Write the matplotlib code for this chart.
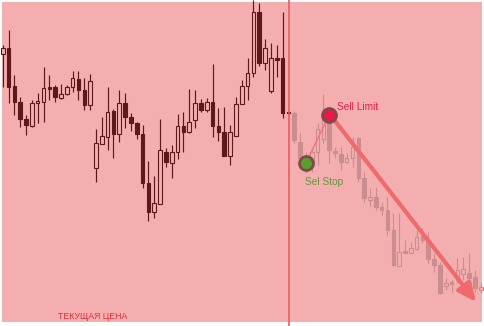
import matplotlib
matplotlib.use("Agg")
import matplotlib.pyplot as plt
import numpy as np

# Candle OHLC values (price units), index 0..82
opens = [271.7, 278.3, 240, 224.3, 206.7, 200.3, 222.7, 224.3, 238.7, 238.7,
         228.3, 231.7, 239.3, 247, 236, 221, 158.3, 181.7, 189.3, 215,
         191.7, 223.3, 208.7, 202.7, 192, 142.7, 114.3, 122, 173.7, 163.3,
         174.3, 200, 194.3, 206, 223.3, 216, 224.3, 200.3, 194.3, 170,
         190, 222, 240, 252.7, 314.3, 263.3, 235.3, 267.7, 267.7, 213.7,
         213, 184.3, 168, 161, 174, 187, 207, 175.3, 172, 164.3,
         168, 187.7, 147.7, 126, 128.7, 119.3, 116, 96, 60.5, 75,
         73.3, 77, 90.5, 86, 66.7, 61, 40, 44, 46, 52.5,
         53.3, 49.5, 36]
highs = [281, 296, 251, 229, 211, 226, 233.3, 259.3, 251, 241,
         241.7, 241, 255, 255.3, 248.3, 252, 197, 209.3, 238.7, 217,
         236, 232.7, 212.7, 204.3, 201, 165, 150, 207, 177.7, 181,
         211.7, 213.7, 236.7, 236, 226.7, 227.7, 261.7, 217.7, 219.3, 201,
         229.3, 246, 267.7, 326, 322.7, 286.7, 282.7, 281, 314.3, 214,
         215, 193, 174.3, 178, 203, 232, 216, 179.3, 179, 172.7,
         189.3, 189.3, 154.3, 137.7, 139.3, 124.3, 129.3, 113, 112.7, 86,
         84.3, 96, 98, 94.3, 72.7, 64.3, 48, 46, 68, 69.3,
         73, 56, 43.3]
lows = [239, 223, 211, 199, 191, 199, 203.3, 204.3, 226, 224.3,
        226.7, 231, 234.3, 226, 216, 216, 144.3, 181.7, 176, 168.3,
        184.3, 197.7, 195, 187, 138.3, 105.3, 108.3, 122, 158.7, 148.3,
        167, 173.7, 193.3, 197.7, 214.3, 214.3, 188.7, 185.3, 170, 161,
        190, 222, 226, 248.7, 260, 256, 233.3, 249.3, 207.7, 212.5,
        183, 164.3, 153, 154, 161, 182.7, 162.7, 167.7, 156, 163.3,
        159.3, 144.3, 124.3, 120, 116, 111, 91, 60, 60, 72.7,
        72, 76, 83, 62.7, 54.3, 32, 36, 34.3, 43, 46,
        36, 34, 32.7]
closes = [278.3, 239, 224, 206.7, 201, 223.3, 225, 237.7, 237.3, 229.3,
          232, 239.3, 248.3, 236, 221, 245, 182.7, 190, 213.7, 191.7,
          223.3, 208.7, 202.7, 192, 142.7, 114.3, 122.7, 176, 163.7, 174.3,
          200.3, 194.3, 204.3, 223.3, 216, 224.3, 200.3, 194.3, 170, 194.3,
          222, 240, 252.7, 314.3, 263.3, 277.7, 267.7, 266, 213.3, 213,
          186, 167.7, 158, 174, 196.7, 212.7, 176, 173.3, 164, 168,
          179.3, 147.7, 127.7, 129.3, 119.3, 116, 96, 61, 74.3, 73.5,
          77.7, 89.3, 86, 66.7, 61, 33, 43.3, 42.5, 56, 56.7,
          48, 38.5, 39.3]
current_index = 49  # last real candle ("текущая цена")

sell_limit = (56, 211)
sell_stop = (52, 163)
target = (81.2, 24)
arrow_start = (56.6, 208)

BG = "#f4aeb0"
DARK = "#5e181c"
FADED = "#cc8d90"

fig = plt.figure(figsize=(4.85, 3.26), dpi=100)
fig.patch.set_facecolor("white")
ax = fig.add_axes([2 / 485, 4 / 326, 480 / 485, 320 / 326])
ax.set_facecolor(BG)
for s in ax.spines.values():
    s.set_visible(False)
ax.set_xticks([])
ax.set_yticks([])
ax.set_xlim(-0.12, 82.21)
ax.set_ylim(4, 324)

x = np.arange(len(opens))
o = np.array(opens); h = np.array(highs); l = np.array(lows); c = np.array(closes)
col = [DARK if i <= current_index else FADED for i in x]
bull = c > o
face = [BG if bull[i] else col[i] for i in x]

ax.vlines(x, l, h, colors=col, lw=0.85, zorder=2, clip_on=False)
bottom = np.minimum(o, c)
height = np.maximum(np.abs(c - o), 0.9)
ax.bar(x, height, bottom=bottom, width=0.62, color=face, edgecolor=col,
       linewidth=0.8, zorder=3, clip_on=False)

# current price vertical line
ax.axvline(current_index + 0.1, ymin=-0.02, ymax=1.02, color="#ec5a5c",
           lw=1.2, zorder=4, clip_on=False)

# thin link between markers
ax.plot([sell_stop[0], sell_limit[0]], [sell_stop[1], sell_limit[1]],
        color="#e9777b", lw=1.0, zorder=5)

# big arrow
ax.annotate("", xy=target, xytext=arrow_start,
            arrowprops=dict(arrowstyle="-|>,head_length=1.1,head_width=0.5",
                            color="#ef6a6c", lw=3.0, shrinkA=0, shrinkB=0,
                            mutation_scale=10),
            zorder=5)

ax.plot(*sell_limit, "o", ms=10, mfc="#e8194a", mec="#7e4a4c", mew=2, zorder=6)
ax.plot(*sell_stop, "o", ms=10, mfc="#58a02a", mec="#7e4a4c", mew=2, zorder=6)

ax.annotate("Sell Limit", xy=sell_limit, xytext=(5.5, 5.6),
            textcoords="offset points", ha="left", va="center",
            color="#e1204c", fontsize=7.3, family="Liberation Sans", zorder=7)
ax.annotate("Sel Stop", xy=sell_stop, xytext=(-0.3, -13.7),
            textcoords="offset points", ha="left", va="center",
            color="#64983a", fontsize=7.3, family="Liberation Sans", zorder=7)

fig.text(93 / 485, 1 - 316.5 / 326, "ТЕКУЩАЯ ЦЕНА", ha="center", va="center",
         color="#e03236", fontsize=6.3, family="Liberation Sans")

fig.savefig("out.png", dpi=100, facecolor=fig.get_facecolor())
